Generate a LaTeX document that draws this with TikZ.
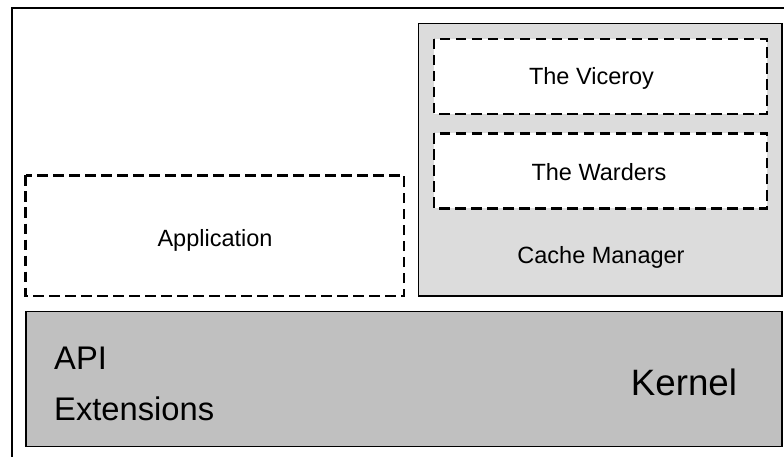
\documentclass[tikz,border=0pt]{standalone}
\usepackage{fontspec}
\setmainfont{Liberation Sans}
\begin{document}
\begin{tikzpicture}[x=1pt,y=-1pt,
  solidbox/.style={draw=black,line width=1.6pt},
  dashbox/.style={draw=black,fill=white,line width=2.7pt,dash pattern=on 10.5pt off 5.5pt},
  label/.style={inner sep=0pt,font=\fontsize{23.5}{26}\selectfont},
  biglabel/.style={inner sep=0pt,font=\fontsize{32.7}{36}\selectfont}]
\useasboundingbox (0,0) rectangle (784,457);
\definecolor{cachegray}{HTML}{DCDCDC}
\definecolor{kernelgray}{HTML}{C0C0C0}
% open outer frame: top and left edges only
\draw[line width=2pt] (11.5,457) -- (11.5,8.5) -- (784,8.5);
% cache manager with its two inner parts
\draw[solidbox,fill=cachegray] (418.5,23.5) rectangle (782,296);
\draw[dashbox] (434,39) rectangle (767,114);
\draw[dashbox] (434,133.5) rectangle (767,208.5);
% application
\draw[dashbox] (25.5,175.5) rectangle (404,296);
% kernel layer
\draw[solidbox,fill=kernelgray] (26,311.5) rectangle (782,446.5);
% texts
\node[label,anchor=base] (viceroy) at (591.5,84.5) {The Viceroy};
\node[label,anchor=base] (warders) at (599,180.5) {The Warders};
\node[label,anchor=base] (app) at (215,246.5) {Application};
\node[label,anchor=base] (cache) at (601,263.5) {Cache Manager};
\node[biglabel,anchor=base west] (api) at (54,369) {API};
\node[biglabel,anchor=base west] (ext) at (54,420) {Extensions};
\node[inner sep=0pt,anchor=base,font=\fontsize{36.7}{40}\selectfont] (kernel) at (684,395) {Kernel};
\end{tikzpicture}
\end{document}
